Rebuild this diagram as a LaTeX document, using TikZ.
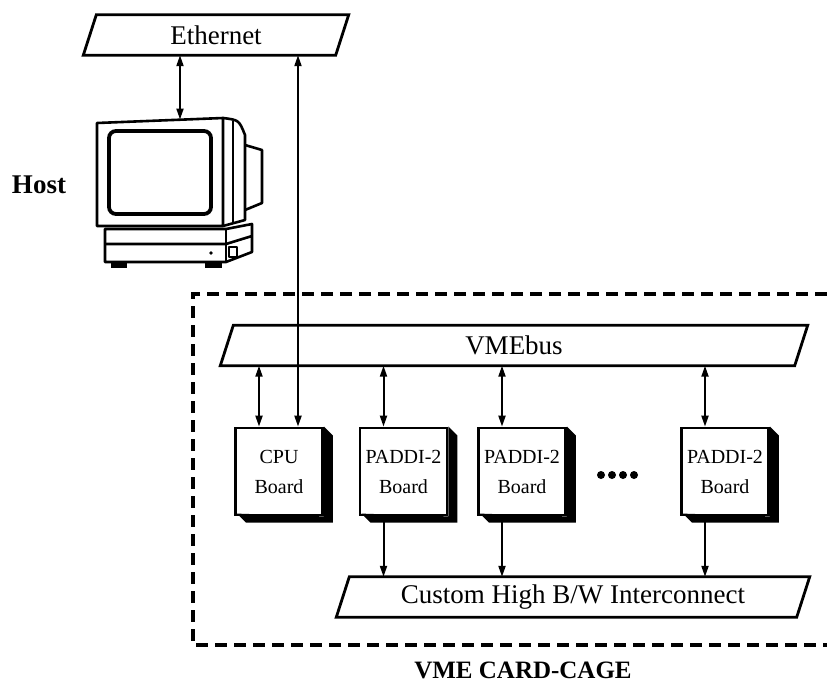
\documentclass[tikz,border=0pt]{standalone}
\usepackage{fontspec}
\setmainfont{Liberation Serif}
\usetikzlibrary{arrows.meta}

\begin{document}
\begin{tikzpicture}[x=1pt,y=-1pt,
    bus/.style={minimum height=40pt, inner sep=0pt, font=\fontsize{27}{30}\selectfont},
    busline/.style={line width=2.8pt, line join=miter},
    board/.style={draw, line width=2.8pt, fill=white, minimum width=87pt, minimum height=87pt,
        inner sep=0pt, align=center, font=\fontsize{20}{30}\selectfont},
    link/.style={line width=2pt, {Triangle[length=11pt,width=7pt]}-{Triangle[length=11pt,width=7pt]}},
    feed/.style={line width=2pt, -{Triangle[length=11pt,width=7pt]}},
    mon/.style={line width=2.6pt, line join=round},
    cage/.style={line width=3.2pt, dash pattern=on 12pt off 7pt},
    tag/.style={font=\bfseries\fontsize{25}{30}\selectfont}]

    \useasboundingbox (0,0) rectangle (827,686);

    \node[bus, minimum width=252pt] (eth) at (216,35) {Ethernet};
    \node[bus, minimum width=574pt] (vme) at (514,345.5) {VMEbus};
    \node[bus, minimum width=460pt] (ic) at (573,597) {Custom High B/W Interconnect};
    \foreach \n in {eth,vme,ic}
        \draw[busline] ([xshift=-6.5pt]\n.south west) -- ([xshift=6.5pt]\n.north west)
            -- ([xshift=6.5pt]\n.north east) -- ([xshift=-6.5pt]\n.south east) -- cycle;

    \node[tag, font=\bfseries\fontsize{27}{30}\selectfont] (host) at (39,185) {Host};
    \node[tag] (cage) at (523,670) {VME CARD-CAGE};

    \draw[cage] (827,294) -- (193,294) -- (193,645) -- (827,645);

    \draw[mon] (97,123) -- (223,118) -- (223,226) -- (97,226) -- cycle;
    \draw[mon] (223,118) .. controls (239,120) .. (245,135) -- (245,220) -- (223,226);
    \draw[mon] (233,121) -- (233,224);
    \draw[mon] (245,145) -- (262,150) -- (262,203) -- (245,210);
    \draw[line width=3.8pt, rounded corners=7pt] (109,131) rectangle (211,214);
    \draw[mon] (105,229) -- (226,229) -- (252,224) -- (252,252) -- (226,262) -- (105,262) -- cycle;
    \draw[mon] (226,229) -- (226,262);
    \draw[mon] (105,244) -- (226,244) -- (252,236);
    \draw[mon] (229,247) rectangle (237,257);
    \fill (211,253) circle (1.8pt);
    \fill (111,262) rectangle (127,268);
    \fill (205,262) rectangle (222,268);
    \coordinate (mon) at (180,119.5);

    \node[board] (cpu) at (279,471.5) {CPU\\Board};
    \node[board] (pa) at (403.5,471.5) {PADDI-2\\Board};
    \node[board] (pb) at (522,471.5) {PADDI-2\\Board};
    \node[board] (pn) at (725,471.5) {PADDI-2\\Board};
    \foreach \b in {cpu,pa,pb,pn}
        \fill (\b.north east) -- ++(9,9) -- ++(0,87) -- ++(-87,0) -- ++(-9,-9)
            -- (\b.south east) -- cycle;

    \foreach \i in {0,...,3}
        \fill (601+11*\i,475) circle (4pt);

    \draw[link] (mon) -- (mon |- eth.south);
    \coordinate (uplink) at ([xshift=19pt]cpu.north);
    \draw[link] (uplink) -- (uplink |- eth.south);
    \foreach \b in {cpu,pa,pb,pn} {
        \coordinate (\b top) at ([xshift=-20pt]\b.north);
        \draw[link] (\b top) -- (\b top |- vme.south);
    }
    \foreach \b in {pa,pb,pn} {
        \coordinate (\b bot) at ([xshift=-20pt]\b.south);
        \draw[feed] (\b bot) -- (\b bot |- ic.north);
    }
\end{tikzpicture}
\end{document}
